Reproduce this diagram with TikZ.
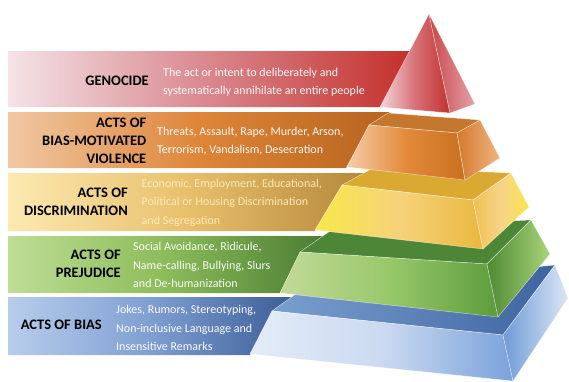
\documentclass[tikz,border=0pt]{standalone}
\usepackage{fontspec}
\setmainfont{Carlito}
% banners
\definecolor{genL}{HTML}{F3E3E7}
\definecolor{genM}{HTML}{D9868C}
\definecolor{genR}{HTML}{C4302B}
\definecolor{vioL}{HTML}{F0C8A4}
\definecolor{vioM}{HTML}{DE8538}
\definecolor{vioR}{HTML}{B7641F}
\definecolor{disL}{HTML}{FCE9B0}
\definecolor{disM}{HTML}{E8C06C}
\definecolor{disR}{HTML}{B5883A}
\definecolor{preL}{HTML}{BEDD95}
\definecolor{preM}{HTML}{8CBC5A}
\definecolor{preR}{HTML}{4A7D33}
\definecolor{biaL}{HTML}{B8CDEC}
\definecolor{biaM}{HTML}{7F9FD2}
\definecolor{biaR}{HTML}{3C5E96}
\definecolor{disText}{HTML}{FCECBA}
% pyramid faces
\definecolor{blueTopL}{HTML}{7AA0D0}
\definecolor{blueTopR}{HTML}{3E64A0}
\definecolor{blueFrL}{HTML}{E4ECF7}
\definecolor{blueFrM}{HTML}{CBDAF1}
\definecolor{blueFrR}{HTML}{7AA2DA}
\definecolor{blueRtL}{HTML}{6F9BD6}
\definecolor{blueRtR}{HTML}{DCE6F5}
\definecolor{greenTop}{HTML}{4D8636}
\definecolor{greenFrL}{HTML}{C2DA98}
\definecolor{greenFrM}{HTML}{98C86A}
\definecolor{greenFrR}{HTML}{5C9C3C}
\definecolor{greenRtL}{HTML}{4F8A33}
\definecolor{greenRtR}{HTML}{A8D47A}
\definecolor{yelTop}{HTML}{D9A932}
\definecolor{yelFrL}{HTML}{F9E84A}
\definecolor{yelFrM}{HTML}{F6D27A}
\definecolor{yelFrR}{HTML}{E9B83E}
\definecolor{yelRtL}{HTML}{EFC050}
\definecolor{yelRtM}{HTML}{F7D488}
\definecolor{yelRtR}{HTML}{F9E44C}
\definecolor{oraTop}{HTML}{C5772E}
\definecolor{oraFrL}{HTML}{F6CCA8}
\definecolor{oraFrM}{HTML}{E28A3A}
\definecolor{oraFrR}{HTML}{C9701F}
\definecolor{oraRtL}{HTML}{D47A2C}
\definecolor{oraRtR}{HTML}{F0B482}
\definecolor{redFrL}{HTML}{F4D6DA}
\definecolor{redFrM}{HTML}{D77178}
\definecolor{redFrR}{HTML}{C2312E}
\definecolor{redRtL}{HTML}{C9464A}
\definecolor{redRtR}{HTML}{E3A2A8}

\begin{document}
\begin{tikzpicture}[x=1pt, y=-1pt,
  lbl/.style={anchor=east, align=right, inner sep=0pt, text=black,
    font=\fontsize{14.5}{18}\selectfont\bfseries},
  desc/.style={anchor=west, align=left, inner sep=0pt, text=white, text opacity=0.95,
    font=\fontsize{12}{18.5}\selectfont},
  face/.style={draw=white, draw opacity=0.55, line width=0.5pt, line join=round}]

  \useasboundingbox (0,0) rectangle (569,381);

  %% banners
  \shade[left color=genL, right color=genR, middle color=genM]
    (8,51) -- (411,51) -- (381,107) -- (8,107) -- cycle;
  \shade[left color=vioL, right color=vioR, middle color=vioM]
    (8,112) -- (390,112) -- (369,125) -- (346,168) -- (8,168) -- cycle;
  \shade[left color=disL, right color=disR, middle color=disM]
    (8,173) -- (365,173) -- (342,185) -- (315,231) -- (8,231) -- cycle;
  \shade[left color=preL, right color=preR, middle color=preM]
    (8,236) -- (323,236) -- (300,252) -- (280,293) -- (8,293) -- cycle;
  \shade[left color=biaL, right color=biaR, middle color=biaM]
    (8,297) -- (292,297) -- (272,311) -- (250,355) -- (8,355) -- cycle;

  %% blue layer
  \shadedraw[face, left color=blueTopL, right color=blueTopR]
    (272,311) -- (503,335) -- (555,265) -- (300,291) -- cycle; %% top
  \shadedraw[face, left color=blueFrL, right color=blueFrR, middle color=blueFrM]
    (272,311) -- (503,335) -- (513,381) -- (250,354) -- cycle; %% front
  \shadedraw[face, left color=blueRtL, right color=blueRtR]
    (503,335) -- (555,265) -- (568,298) -- (513,381) -- cycle; %% right

  %% green layer
  \filldraw[face, fill=greenTop]
    (300,252) -- (487,264) -- (531,220) -- (333,229) -- cycle; %% top
  \shadedraw[face, left color=greenFrL, right color=greenFrR, middle color=greenFrM]
    (300,252) -- (487,264) -- (498,317) -- (280,293) -- cycle; %% front
  \shadedraw[face, left color=greenRtL, right color=greenRtR]
    (487,264) -- (531,220) -- (550,254) -- (498,317) -- cycle; %% right

  %% yellow layer
  \filldraw[face, fill=yelTop]
    (342,185) -- (473,200) -- (511,173) -- (375,167) -- cycle; %% top
  \shadedraw[face, left color=yelFrL, right color=yelFrR, middle color=yelFrM]
    (342,185) -- (473,200) -- (483,249) -- (315,230) -- cycle; %% front
  \shadedraw[face, left color=yelRtL, right color=yelRtR, middle color=yelRtM]
    (473,200) -- (511,173) -- (529,207) -- (483,249) -- cycle; %% right

  %% orange layer
  \filldraw[face, fill=oraTop]
    (369,125) -- (457,133) -- (480,120) -- (388,113) -- cycle; %% top
  \shadedraw[face, left color=oraFrL, right color=oraFrR, middle color=oraFrM]
    (369,125) -- (457,133) -- (465,180) -- (347,167) -- cycle; %% front
  \shadedraw[face, left color=oraRtL, right color=oraRtR]
    (457,133) -- (480,120) -- (500,158) -- (465,180) -- cycle; %% right

  %% top of the pyramid
  \shadedraw[face, left color=redFrL, right color=redFrR, middle color=redFrM]
    (429,14) -- (380,107) -- (450,113) -- cycle; %% front
  \shadedraw[face, left color=redRtL, right color=redRtR]
    (429,14) -- (450,113) -- (475,104) -- cycle; %% right

  %% texts
  \node[lbl] (genocide) at (149,80.5) {GENOCIDE};
  \node[desc] (genocideText) at (163,82.5) {The act or intent to deliberately and\\systematically annihilate an entire people};
  \node[lbl] (violence) at (146.5,141) {ACTS OF\\BIAS-MOTIVATED\\VIOLENCE};
  \node[desc] (violenceText) at (157,141) {Threats, Assault, Rape, Murder, Arson,\\Terrorism, Vandalism, Desecration};
  \node[lbl] (discrimination) at (128,201.5) {ACTS OF\\DISCRIMINATION};
  \node[desc, text=disText] (discriminationText) at (141.5,202.5) {Economic, Employment, Educational,\\Political or Housing Discrimination\\and Segregation};
  \node[lbl] (prejudice) at (121,264) {ACTS OF\\PREJUDICE};
  \node[desc] (prejudiceText) at (133,265) {Social Avoidance, Ridicule,\\Name-calling, Bullying, Slurs\\and De-humanization};
  \node[lbl] (bias) at (102,325) {ACTS OF BIAS};
  \node[desc] (biasText) at (116,328) {Jokes, Rumors, Stereotyping,\\Non-inclusive Language and\\Insensitive Remarks};
\end{tikzpicture}
\end{document}
